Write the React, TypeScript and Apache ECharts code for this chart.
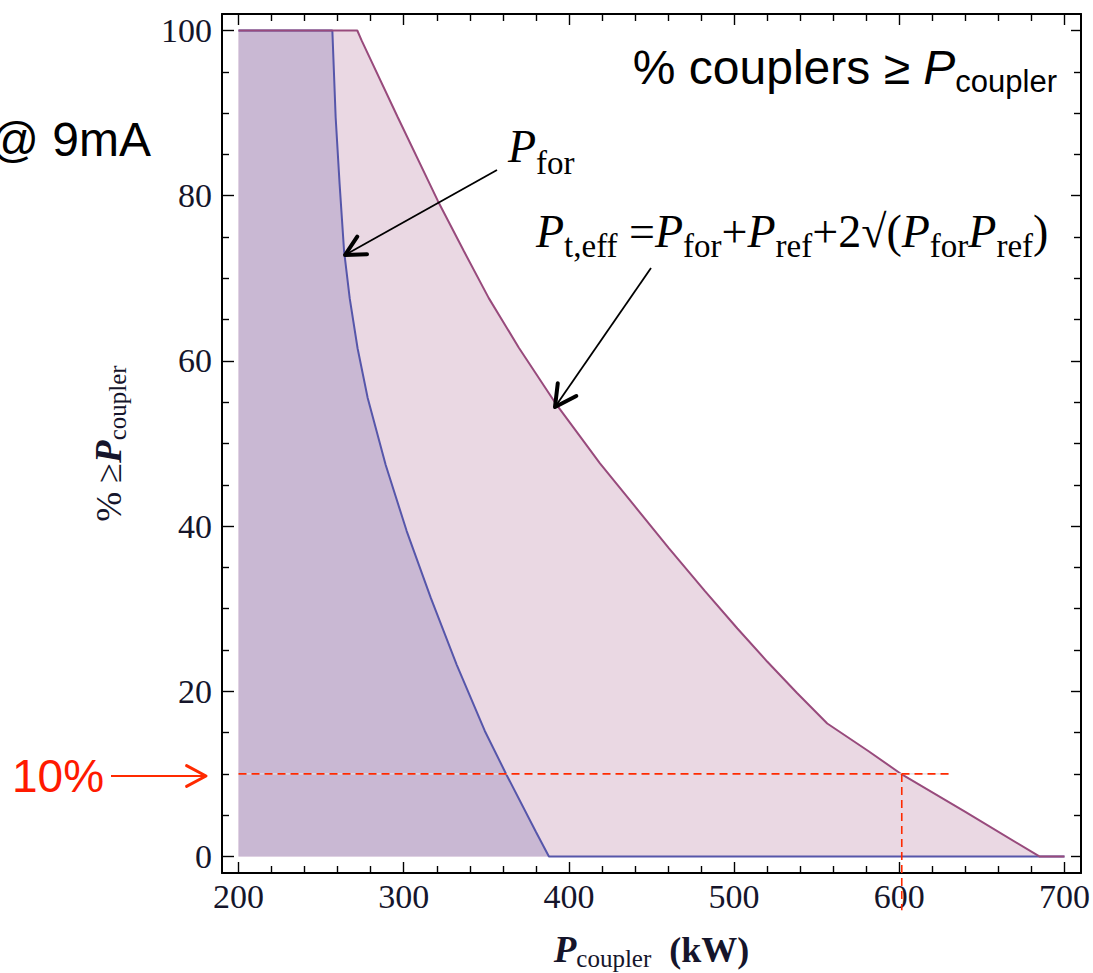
import React, { useEffect, useRef } from "react";
import * as echarts from "echarts";

// ---- data ----
const pForX = [200, 256.8, 258.8, 261.2, 263.9, 267.3, 272.1, 278.2, 289.1, 301.8, 316.4, 332.1, 349.1, 362.2, 380, 387.9, 700];
const pForY = [100, 100, 89.5, 81.4, 73.3, 67.6, 61.5, 55.5, 47.4, 39.4, 31.3, 23.2, 15.2, 9.9, 3.0, 0, 0];

const pEffX = [200, 271.9, 274.5, 296.4, 320.6, 336.4, 351.5, 369.7, 392.5, 407.3, 418.8, 439.5, 460.6, 482.5, 502.0, 520.0, 538.1, 556.4, 581, 601.8, 640, 684.8, 700];
const pEffY = [100, 100, 98.8, 89.5, 79.4, 73.3, 67.6, 61.6, 54.7, 50.7, 47.6, 42.5, 37.3, 32.1, 27.6, 23.6, 19.8, 16.1, 12.8, 9.9, 5.4, 0, 0];

const xMajor = [200, 300, 400, 500, 600, 700];
const xMinor = [220, 240, 260, 280, 320, 340, 360, 380, 420, 440, 460, 480, 520, 540, 560, 580, 620, 640, 660, 680];
const yMajor = [0, 20, 40, 60, 80, 100];
const yMinor = [5, 10, 15, 25, 30, 35, 45, 50, 55, 65, 70, 75, 85, 90, 95];

const levelPct = 10;
const levelLineX = [200, 630];
const cutX = 601.5;
const cutLineY = [10, -6.5];

const X_RANGE = [190, 710];
const Y_RANGE = [-2, 102];

const serif = '"Liberation Serif", "Times New Roman", serif';
const sans = '"Liberation Sans", Arial, sans-serif';
const labelColor = "#15152b";

function chevron(tip: number[], from: number[], L: number, deg: number) {
  const a = Math.atan2(from[1] - tip[1], from[0] - tip[0]);
  const r = (deg * Math.PI) / 180;
  return [
    [tip[0] + L * Math.cos(a + r), tip[1] + L * Math.sin(a + r)],
    tip,
    [tip[0] + L * Math.cos(a - r), tip[1] + L * Math.sin(a - r)],
  ];
}

function arrow(from: number[], tip: number[], color: string, shaftW: number, headW: number, L: number, deg: number) {
  return [
    {
      type: "line",
      z: 100,
      shape: { x1: from[0], y1: from[1], x2: tip[0], y2: tip[1] },
      style: { stroke: color, lineWidth: shaftW },
    },
    {
      type: "polyline",
      z: 100,
      shape: { points: chevron(tip, from, L, deg) },
      style: { stroke: color, lineWidth: headW, fill: null, lineJoin: "round", lineCap: "round" },
    },
  ];
}

function xAxisDef(position: string, values: number[], len: number, showLine: boolean, showLabel: boolean, extra: any = {}) {
  return {
    type: "value",
    min: X_RANGE[0],
    max: X_RANGE[1],
    position,
    axisLine: { show: showLine, onZero: false, lineStyle: { color: "#000", width: 2 } },
    axisTick: { show: true, inside: true, length: len, customValues: values, lineStyle: { color: "#000", width: 1.4 } },
    axisLabel: {
      show: showLabel,
      customValues: values,
      margin: 6,
      fontSize: 34,
      fontFamily: serif,
      color: labelColor,
    },
    splitLine: { show: false },
    ...extra,
  };
}

function yAxisDef(position: string, values: number[], len: number, showLine: boolean, showLabel: boolean, extra: any = {}) {
  return {
    type: "value",
    min: Y_RANGE[0],
    max: Y_RANGE[1],
    position,
    axisLine: { show: showLine, onZero: false, lineStyle: { color: "#000", width: 2 } },
    axisTick: { show: true, inside: true, length: len, customValues: values, lineStyle: { color: "#000", width: 1.4 } },
    axisLabel: {
      show: showLabel,
      customValues: values,
      margin: 10,
      fontSize: 34,
      fontFamily: serif,
      color: labelColor,
    },
    splitLine: { show: false },
    ...extra,
  };
}

export default function App() {
  const ref = useRef<HTMLDivElement>(null);

  useEffect(() => {
    if (!ref.current) return;
    const chart = echarts.init(ref.current, null, { renderer: "svg", width: 1093, height: 973 });

    const pFor = pForX.map((x, i) => [x, pForY[i]]);
    const pEff = pEffX.map((x, i) => [x, pEffY[i]]);
    const hLine = levelLineX.map((x) => [x, levelPct]);
    const vLine = cutLineY.map((y) => [cutX, y]);

    const nameRich = {
      n: { fontSize: 36, fontFamily: serif, color: labelColor },
      p: { fontSize: 37, fontFamily: serif, fontStyle: "italic", fontWeight: "bold", color: labelColor },
      b: { fontSize: 36, fontFamily: serif, fontWeight: "bold", color: labelColor },
      s: { fontSize: 25, fontFamily: serif, color: labelColor, padding: [18, 0, 0, 0] },
    };

    const option: any = {
      animation: false,
      backgroundColor: "#ffffff",
      grid: { left: 222, right: 12, top: 14, bottom: 100, containLabel: false, outerBoundsMode: "none" },
      xAxis: [
        xAxisDef("bottom", xMajor, 11, true, true, {
          name: "{p|P}{s|coupler}{n|  }{b|(kW)}",
          nameLocation: "middle",
          nameGap: 55,
          nameTextStyle: { rich: nameRich },
        }),
        xAxisDef("bottom", xMinor, 7, false, false),
        xAxisDef("top", xMajor, 11, true, false),
        xAxisDef("top", xMinor, 7, false, false),
      ],
      yAxis: [
        yAxisDef("left", yMajor, 12, true, true, {
          name: "{n|% ≥}{p|P}{s|coupler}",
          nameLocation: "middle",
          nameRotate: 90,
          nameGap: 92,
          nameTextStyle: { rich: nameRich },
        }),
        yAxisDef("left", yMinor, 7, false, false),
        yAxisDef("right", yMajor, 10, true, false),
        yAxisDef("right", yMinor, 7, false, false),
      ],
      series: [
        {
          name: "Pt,eff fill",
          type: "line",
          data: pEff,
          symbol: "none",
          lineStyle: { width: 0, opacity: 0 },
          areaStyle: { color: "#ead8e3", opacity: 1 },
          silent: true,
        },
        {
          name: "Pfor fill",
          type: "line",
          data: pFor,
          symbol: "none",
          lineStyle: { width: 0, opacity: 0 },
          areaStyle: { color: "#c9b8d3", opacity: 1 },
          silent: true,
        },
        {
          name: "Pfor",
          type: "line",
          data: pFor,
          symbol: "none",
          lineStyle: { color: "#5656aa", width: 2 },
        },
        {
          name: "Pt,eff",
          type: "line",
          data: pEff,
          symbol: "none",
          lineStyle: { color: "#984a7c", width: 2 },
        },
        {
          name: "10% under",
          type: "line",
          data: hLine,
          symbol: "none",
          lineStyle: { color: "#dce2ea", width: 1.2 },
        },
        {
          name: "10% level",
          type: "line",
          data: hLine,
          symbol: "none",
          lineStyle: { color: "#ff2a00", width: 1.6, type: [8, 5] },
        },
        {
          name: "600 kW cut",
          type: "line",
          data: vLine,
          symbol: "none",
          clip: false,
          z: 5,
          lineStyle: { color: "#ff2a00", width: 1.6, type: [8, 5] },
        },
      ],
      graphic: [
        {
          type: "text",
          z: 100,
          x: 151,
          y: 139,
          style: {
            text: "@ 9mA",
            fontSize: 48,
            fontFamily: sans,
            fill: "#000",
            align: "right",
            textAlign: "right",
            verticalAlign: "middle",
            textVerticalAlign: "middle",
          },
        },
        {
          type: "text",
          z: 100,
          x: 1057,
          y: 67,
          style: {
            text: "{n|% couplers ≥ }{i|P}{s|coupler}",
            fontSize: 48,
            fontFamily: sans,
            fill: "#000",
            align: "right",
            textAlign: "right",
            verticalAlign: "middle",
            textVerticalAlign: "middle",
            rich: {
              n: { fontSize: 48, fontFamily: sans, fill: "#000" },
              i: { fontSize: 48, fontFamily: sans, fontStyle: "italic", fill: "#000" },
              s: { fontSize: 31, fontFamily: sans, fill: "#000", padding: [28, 0, 0, 0] },
            },
          },
        },
        {
          type: "text",
          z: 100,
          x: 508,
          y: 146,
          style: {
            text: "{i|P}{s|for}",
            fontSize: 46,
            fontFamily: serif,
            fill: "#000",
            align: "left",
            textAlign: "left",
            verticalAlign: "middle",
            textVerticalAlign: "middle",
            rich: {
              i: { fontSize: 46, fontFamily: serif, fontStyle: "italic", fill: "#000" },
              s: { fontSize: 33, fontFamily: serif, fill: "#000", padding: [33, 0, 0, 0] },
            },
          },
        },
        {
          type: "text",
          z: 100,
          x: 536,
          y: 231,
          style: {
            text: "{i|P}{s|t,eff}{n| =}{i|P}{s|for}{n|+}{i|P}{s|ref}{n|+2√(}{i|P}{s|for}{i|P}{s|ref}{n|)}",
            fontSize: 46,
            fontFamily: serif,
            fill: "#000",
            align: "left",
            textAlign: "left",
            verticalAlign: "middle",
            textVerticalAlign: "middle",
            rich: {
              n: { fontSize: 46, fontFamily: serif, fill: "#000" },
              i: { fontSize: 46, fontFamily: serif, fontStyle: "italic", fill: "#000" },
              s: { fontSize: 33, fontFamily: serif, fill: "#000", padding: [30, 0, 0, 0] },
            },
          },
        },
        {
          type: "text",
          z: 100,
          x: 12,
          y: 776,
          style: {
            text: "10%",
            fontSize: 46,
            fontFamily: sans,
            fill: "#ff1a00",
            align: "left",
            textAlign: "left",
            verticalAlign: "middle",
            textVerticalAlign: "middle",
          },
        },
        ...arrow([497, 170], [345, 255], "#000", 1.8, 4, 22, 27),
        ...arrow([651, 268], [555, 407], "#000", 1.8, 4, 24, 28),
        ...arrow([111, 776], [206, 776], "#ff2a00", 2, 3, 22, 28),
      ],
    };

    chart.setOption(option);
    return () => {
      chart.dispose();
    };
  }, []);

  return (
    <div
      ref={ref}
      style={{ position: "absolute", left: 0, top: 0, width: 1093, height: 973, background: "#fff" }}
    />
  );
}
